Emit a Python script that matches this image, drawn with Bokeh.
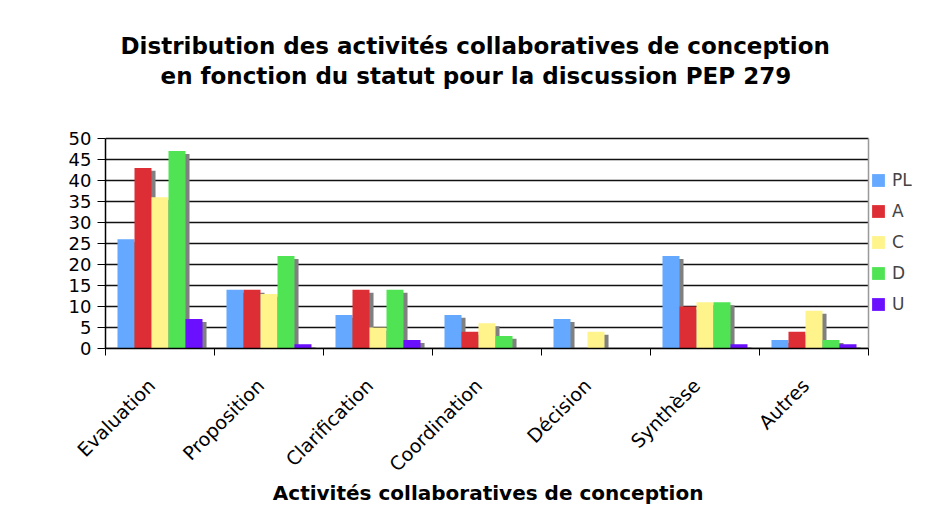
from bokeh.plotting import figure
from bokeh.models import ColumnDataSource, Range1d, FixedTicker, Legend
from bokeh.transform import dodge
from bokeh.embed import file_html
from bokeh.resources import INLINE

categories = ["Evaluation", "Proposition", "Clarification", "Coordination",
              "Décision", "Synthèse", "Autres"]
series_names = ["PL", "A", "C", "D", "U"]
PL = [26, 14, 8, 8, 7, 22, 2]
A = [43, 14, 14, 4, 0, 10, 4]
C = [36, 13, 5, 6, 4, 11, 9]
D = [47, 22, 14, 3, 0, 11, 2]
U = [7, 1, 2, 0, 0, 1, 1]
y_ticks = [0, 5, 10, 15, 20, 25, 30, 35, 40, 45, 50]
title_lines = ["Distribution des activités collaboratives de conception",
               "en fonction du statut pour la discussion PEP 279"]
x_title = "Activités collaboratives de conception"

colors = ["#64a8ff", "#de2e35", "#fff38b", "#50e455", "#6a10ff"]
shadow_color = "#808080"
FONT = "DejaVu Sans"
NB = "\u00a0"

# layout (pixels)
W, H = 912, 509
LEFT, TOP, BOTTOM = 105, 110, 161
AX_W, AX_H = 763, 210          # pixel size of the 0..7 x 0..50 plot area
frame_w, frame_h = W - LEFT, H - TOP - BOTTOM
n = len(categories)
y_max = y_ticks[-1]

values = [PL, A, C, D, U]
xc = [i + 0.5 for i in range(n)]
data = dict(x=xc)
shadow_drop = 0.7
for name, vals in zip(series_names, values):
    data[name] = vals
    data[name + "_sh"] = [v - shadow_drop if v > 0 else 0 for v in vals]
source = ColumnDataSource(data)

p = figure(width=W, height=H, output_backend="svg", toolbar_location=None,
           x_range=Range1d(0, n * frame_w / AX_W),
           y_range=Range1d(0, y_max * frame_h / AX_H),
           min_border_left=LEFT, min_border_right=0, min_border_top=TOP,
           min_border_bottom=BOTTOM)
p.background_fill_color = "white"
p.border_fill_color = "white"
p.outline_line_color = None

# Two-line title; second line indented so that both lines are centred
p.title.text = title_lines[0] + "\n" + NB * 5 + title_lines[1]
p.title.align = "left"
p.title.offset = 15
p.title.text_font = FONT
p.title.text_font_size = "23px"
p.title.text_font_style = "bold"
p.title.text_color = "black"
p.title.text_line_height = 1.18
p.title.standoff = 42

# horizontal grid lines and right border of the plot area
grid_src = ColumnDataSource(dict(y=y_ticks, x0=[0] * len(y_ticks), x1=[n] * len(y_ticks)))
p.segment(x0="x0", x1="x1", y0="y", y1="y", source=grid_src,
          line_color="#111111", line_width=1.5)
p.segment(x0=[n], x1=[n], y0=[0], y1=[y_max], line_color="#999999", line_width=1.5)

bw = 0.156
sh_dx = 0.037
renderers = []
for i, name in enumerate(series_names):
    off = (i - 2) * bw
    p.vbar(x=dodge("x", off + sh_dx, range=p.x_range), top=name + "_sh", bottom=0,
           width=bw, source=source, fill_color=shadow_color, line_color=None)
    r = p.vbar(x=dodge("x", off, range=p.x_range), top=name, bottom=0, width=bw,
               source=source, fill_color=colors[i], line_color=None)
    renderers.append((name, [r]))

legend = Legend(items=renderers, location=(765, 34))
legend.border_line_color = None
legend.background_fill_alpha = 0
legend.label_text_font = FONT
legend.label_text_font_size = "17px"
legend.glyph_width = 16
legend.glyph_height = 16
legend.label_height = 16
legend.spacing = 11
legend.label_standoff = 6
legend.padding = 0
legend.margin = 0
p.add_layout(legend, "center")

# Y axis
p.yaxis.ticker = FixedTicker(ticks=y_ticks)
p.yaxis.bounds = (0, y_max)
p.yaxis.major_label_text_font = FONT
p.yaxis.major_label_text_font_size = "18px"
p.yaxis.major_label_text_color = "black"
p.yaxis.axis_line_color = "black"
p.yaxis.axis_line_width = 1.5
p.yaxis.major_tick_line_color = "black"
p.yaxis.major_tick_out = 8
p.yaxis.major_tick_in = 0
p.yaxis.minor_tick_line_color = None
p.yaxis.major_label_standoff = 6

# X axis
pad = NB * 2
p.xaxis.ticker = FixedTicker(ticks=xc, minor_ticks=list(range(n + 1)))
p.xaxis.bounds = (0, n)
p.xaxis.major_label_overrides = {x: c + pad for x, c in zip(xc, categories)}
p.xaxis.major_label_orientation = 0.785398
p.xaxis.major_label_text_font = FONT
p.xaxis.major_label_text_font_size = "19px"
p.xaxis.major_label_text_color = "black"
p.xaxis.major_tick_out = 0
p.xaxis.major_tick_in = 0
p.xaxis.minor_tick_out = 7
p.xaxis.minor_tick_in = 0
p.xaxis.minor_tick_line_color = "black"
p.xaxis.axis_line_color = "black"
p.xaxis.axis_line_width = 1.5
p.xaxis.major_label_standoff = 18
p.xaxis.axis_label = x_title + NB * 6
p.xaxis.axis_label_text_font = FONT
p.xaxis.axis_label_text_font_size = "20px"
p.xaxis.axis_label_text_font_style = "bold"
p.xaxis.axis_label_text_color = "black"
p.xaxis.axis_label_standoff = -5

p.xgrid.grid_line_color = None
p.ygrid.grid_line_color = None

open("out.html", "w").write(file_html(p, INLINE))
